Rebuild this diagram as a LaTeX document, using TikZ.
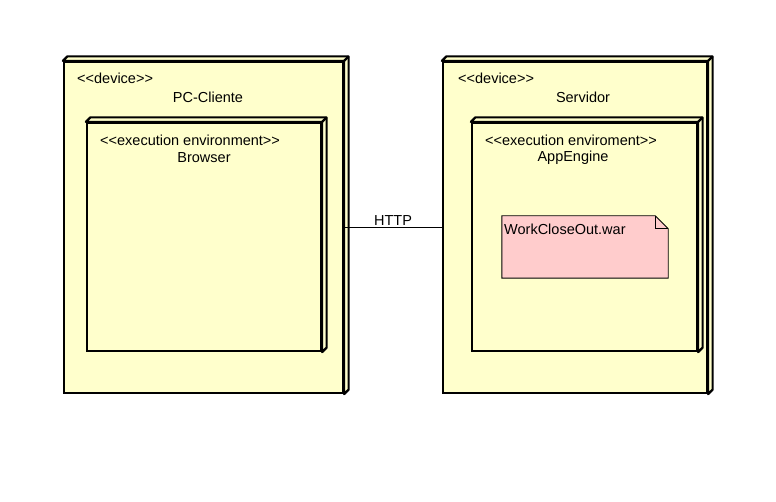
\documentclass[tikz,border=0pt]{standalone}
\usepackage{fontspec}
\setmainfont{Liberation Sans}[Ligatures=TeXOff]
\usetikzlibrary{calc}
\definecolor{nodeyellow}{HTML}{FFFFCC}
\definecolor{artpink}{HTML}{FFCCCC}
\tikzset{
  box3d/.style={draw=black, line width=2.2pt, fill=nodeyellow, rectangle, inner sep=0pt},
  lbl/.style={inner sep=0pt, font=\fontsize{14.5}{17}\selectfont},
  artifact/.style={inner sep=0pt, minimum width=166pt, minimum height=62pt}
}
\newcommand{\depthbox}[1]{%
  \filldraw[draw=black, line width=2.2pt, fill=nodeyellow, line join=round]
    (#1.north west) -- ++(4.5,-4.5) -- ($(#1.north east)+(4.5,-4.5)$)
    -- ($(#1.south east)+(4.5,-4.5)$) -- (#1.south east) -- (#1.north east) -- cycle;
  \draw[line width=2.2pt, line join=round] (#1.north east) -- ++(4.5,-4.5);
}
\begin{document}
\begin{tikzpicture}[x=1pt, y=-1pt]
\useasboundingbox[fill=white] (0,0) rectangle (776,502);

% left device
\node[box3d, minimum width=279pt, minimum height=331pt] (pc) at (203.5,227.5) {};
\depthbox{pc}
\node[lbl, anchor=west] (pcst) at (77,78) {<{}<device>{}>};
\node[lbl] (pcname) at (208,97) {PC-Cliente};

\node[box3d, minimum width=234pt, minimum height=228pt] (br) at (204,237) {};
\depthbox{br}
\node[lbl, anchor=west] (brst) at (100,140) {<{}<execution environment>{}>};
\node[lbl] (brname) at (204,158) {Browser};

% right device
\node[box3d, minimum width=264pt, minimum height=331pt] (srv) at (575,227.5) {};
\depthbox{srv}
\node[lbl, anchor=west] (srvst) at (458,78) {<{}<device>{}>};
\node[lbl] (srvname) at (583,97) {Servidor};

\node[box3d, minimum width=225pt, minimum height=228pt] (app) at (584.5,237) {};
\depthbox{app}
\node[lbl, anchor=west] (appst) at (485,140) {<{}<execution enviroment>{}>};
\node[lbl] (appname) at (573,158) {AppEngine};

% artifact
\node[artifact] (war) at (585,247) {};
\filldraw[draw=black, line width=0.9pt, fill=artpink]
  (war.north west) -- ($(war.north east)+(-13,0)$) -- ($(war.north east)+(0,13)$)
  -- (war.south east) -- (war.south west) -- cycle;
\draw[line width=0.9pt] ($(war.north east)+(-13,0)$) -- ++(0,13) -- ++(13,0);
\node[lbl, anchor=west] (warname) at (504,229) {WorkCloseOut.war};

% connector
\draw[line width=0.9pt] (pc.east) -- node[lbl, above=2pt] (http) {HTTP} (srv.west);
\end{tikzpicture}
\end{document}
